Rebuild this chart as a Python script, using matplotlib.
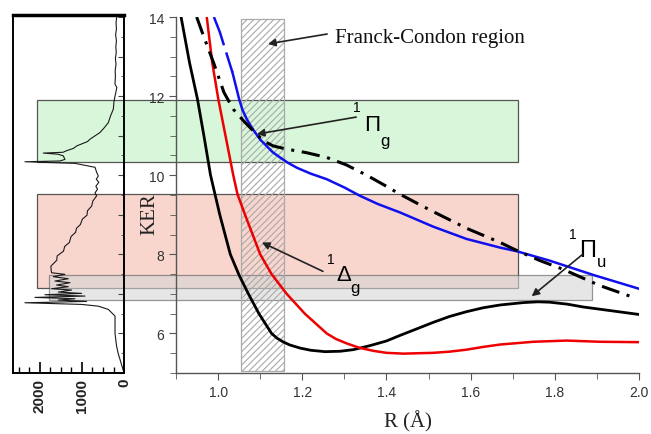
import matplotlib.pyplot as plt
from matplotlib.patches import Rectangle
from matplotlib.ticker import MultipleLocator
from matplotlib import transforms

plt.rcParams['font.family'] = 'Liberation Sans'
plt.rcParams['hatch.linewidth'] = 0.8

# potential curves: R (Angstrom) vs KER (eV)
black_R = [0.912, 0.932, 0.951, 0.967, 0.982, 1.004, 1.029, 1.050, 1.072, 1.097,
           1.127, 1.140, 1.154, 1.170, 1.195, 1.220, 1.254, 1.290, 1.321, 1.360,
           1.400, 1.432, 1.480, 1.511, 1.550, 1.590, 1.630, 1.670, 1.725, 1.760,
           1.788, 1.830, 1.867, 1.930, 2.000]
black_KER = [14.0, 12.85, 11.92, 10.95, 10.0, 9.0, 8.0, 7.47, 7.0, 6.5,
             6.0, 5.88, 5.79, 5.71, 5.63, 5.575, 5.54, 5.55, 5.59, 5.69,
             5.81, 5.95, 6.15, 6.28, 6.43, 6.55, 6.65, 6.72, 6.78, 6.80,
             6.79, 6.74, 6.67, 6.58, 6.48]

red_R = [0.973, 0.986, 1.0005, 1.036, 1.046, 1.064, 1.100, 1.127, 1.163, 1.206,
         1.258, 1.280, 1.305, 1.335, 1.369, 1.400, 1.440, 1.511, 1.550, 1.590,
         1.630, 1.670, 1.749, 1.828, 1.907, 2.000]
red_KER = [14.0, 12.85, 11.92, 10.0, 9.52, 9.0, 8.0, 7.5, 7.0, 6.5,
           6.0, 5.86, 5.75, 5.64, 5.56, 5.51, 5.49, 5.51, 5.54, 5.59,
           5.66, 5.72, 5.79, 5.82, 5.79, 5.78]

blue_top_R = [0.990, 1.004, 1.034]
blue_top_KER = [14.0, 13.62, 12.6]
blue_R = [1.034, 1.043, 1.050, 1.058, 1.068, 1.078, 1.088, 1.100, 1.115, 1.130,
          1.147, 1.165, 1.187, 1.220, 1.258, 1.300, 1.337, 1.380, 1.432, 1.511,
          1.590, 1.670, 1.709, 1.788, 1.891, 2.000]
blue_KER = [12.6, 12.22, 11.92, 11.65, 11.42, 11.24, 11.08, 10.90, 10.74, 10.58,
            10.45, 10.32, 10.19, 10.04, 9.90, 9.69, 9.48, 9.27, 9.06, 8.70,
            8.39, 8.17, 8.08, 7.84, 7.48, 7.13]

dd_R = [0.949, 0.965, 0.989, 1.014, 1.036, 1.060, 1.080, 1.092, 1.107, 1.131,
        1.163, 1.210, 1.258, 1.305, 1.353, 1.400, 1.432, 1.480, 1.511, 1.590,
        1.670, 1.709, 1.765, 1.820, 1.907, 1.990]
dd_KER = [14.0, 13.53, 12.85, 12.09, 11.67, 11.38, 11.16, 11.04, 10.87, 10.74,
          10.66, 10.57, 10.45, 10.26, 10.00, 9.72, 9.52, 9.25, 9.08, 8.66,
          8.30, 8.10, 7.84, 7.62, 7.21, 6.90]

# measured KER spectrum (counts vs KER)
spec_KER = [14.0, 13.85, 13.7, 13.55, 13.4, 13.25, 13.1, 12.95, 12.8, 12.65,
            12.5, 12.3, 12.22, 12.0, 11.85, 11.67, 11.5, 11.33, 11.2, 11.08,
            10.91, 10.85, 10.74, 10.68, 10.62, 10.58, 10.56, 10.53, 10.49, 10.40,
            10.36, 10.34, 10.30, 10.20, 10.07, 9.98, 9.90, 9.82, 9.72, 9.65,
            9.55, 9.48, 9.35, 9.22, 9.10, 8.99, 8.89, 8.75, 8.66, 8.56,
            8.45, 8.30, 8.20, 8.08, 7.96, 7.85, 7.70, 7.58,
            7.535, 7.494, 7.435, 7.384, 7.325, 7.283, 7.224, 7.182, 7.131, 7.097,
            7.046, 7.013, 6.979, 6.945, 6.911, 6.878, 6.844, 6.81, 6.776, 6.734,
            6.69, 6.608, 6.44, 6.0, 5.7, 5.5, 5.2, 5.0]
spec_counts = [174, 190, 180, 200, 180, 195, 185, 205, 190, 210,
               205, 215, 170, 214, 240, 254, 320, 373, 470, 571,
               810, 870, 1127, 1200, 1365, 1450, 1920, 1564, 1444, 1405,
               1524, 2357, 1167, 690, 650, 611, 660, 600, 670, 630,
               690, 650, 740, 770, 870, 880, 990, 1040, 1130, 1150,
               1260, 1300, 1410, 1440, 1590, 1600, 1740, 1730,
               1722, 1405, 1683, 1325, 1643, 1286, 1603, 1325, 1722, 1246,
               1563, 1008, 1881, 929, 2119, 1167, 1563, 889, 2357, 1008,
               611, 373, 214, 214, 180, 140, 55, 0]

# energy windows (KER lo, hi) and their colours
band_lo = [10.33, 7.16, 6.84]
band_hi = [11.9, 9.52, 7.47]
band_left_counts = [2070, 2070, 1790]
band_right_R = [1.712, 1.712, 1.888]
band_colors = ['#d8f6da', '#f8d6ce', '#d6d6d6']
band_alpha = [1.0, 1.0, 0.6]

fc_R = (1.055, 1.157)
fc_KER = (5.04, 13.95)

fig = plt.figure(figsize=(6.51, 4.35), dpi=100)
ax = fig.add_axes([0.2704, 0.1402, 0.7112, 0.8184])
axl = fig.add_axes([0.020, 0.1402, 0.1705, 0.823])
for a in (ax, axl):
    a.set_facecolor('none')

# main panel
ax.set_xlim(0.9, 2.0)
ax.set_ylim(5.0, 14.0)
for s in ('top', 'right'):
    ax.spines[s].set_visible(False)
for s in ('left', 'bottom'):
    ax.spines[s].set_color('#555555')
    ax.spines[s].set_linewidth(1.0)
ax.xaxis.set_major_locator(MultipleLocator(0.2))
ax.xaxis.set_minor_locator(MultipleLocator(0.1))
ax.yaxis.set_major_locator(MultipleLocator(2))
ax.yaxis.set_minor_locator(MultipleLocator(0.5))
ax.set_xticks([1.0, 1.2, 1.4, 1.6, 1.8, 2.0])
ax.set_yticks([6, 8, 10, 12, 14])
ax.tick_params(which='both', direction='out', color='#555555', labelsize=10,
               labelcolor='#333333')
ax.tick_params(which='major', length=5)
ax.tick_params(which='minor', length=4)
ax.set_xlabel('R (Å)', family='Liberation Serif', fontsize=15, color='#222222')
ax.set_ylabel('KER', family='Liberation Serif', fontsize=15, color='#222222')
ax.xaxis.set_label_coords(0.50, -0.105)
ax.yaxis.set_label_coords(-0.036, 0.45)

# spectrum panel
axl.set_xlim(2640, 0)
axl.set_ylim(5.0, 14.05)
for s in axl.spines.values():
    s.set_linewidth(1.4)
    s.set_color('black')
axl.spines['top'].set_linewidth(2.5)
axl.set_xticks([2000, 1000, 0])
axl.xaxis.set_minor_locator(MultipleLocator(250))
axl.set_xticklabels(['2000', '1000', '0'], rotation=90, fontsize=11,
                    fontweight='bold', color='#222222')
axl.tick_params(axis='x', which='major', direction='in', length=8, width=1.2)
axl.tick_params(axis='x', which='minor', direction='in', length=4, width=1)
axl.yaxis.tick_right()
axl.yaxis.set_major_locator(MultipleLocator(1))
axl.yaxis.set_minor_locator(MultipleLocator(0.5))
axl.tick_params(axis='y', which='both', direction='in', labelright=False,
                color='#444444')
axl.tick_params(axis='y', which='major', length=4)
axl.tick_params(axis='y', which='minor', length=2.5)
axl.plot(spec_counts, spec_KER, color='#1a1a1a', lw=0.8)

# energy windows spanning both panels
inv = fig.transFigure.inverted()
for lo, hi, cl, rr, col, al in zip(band_lo, band_hi, band_left_counts, band_right_R,
                                   band_colors, band_alpha):
    x0 = inv.transform(axl.transData.transform((cl, lo)))[0]
    x1 = inv.transform(ax.transData.transform((rr, lo)))[0]
    tr = transforms.blended_transform_factory(fig.transFigure, ax.transData)
    fig.add_artist(Rectangle((x0, lo), x1 - x0, hi - lo, transform=tr,
                             facecolor=col, alpha=al, edgecolor='#555555',
                             lw=0.9, zorder=-1))

# Franck-Condon region
ax.add_patch(Rectangle((fc_R[0], fc_KER[0]), fc_R[1] - fc_R[0], fc_KER[1] - fc_KER[0],
                       facecolor='none', edgecolor='#aaaaaa', hatch='/////',
                       lw=0.9, zorder=1.5))

ax.plot(black_R, black_KER, color='black', lw=2.0, zorder=3)
ax.plot(red_R, red_KER, color='#ee0000', lw=1.8, zorder=3)
ax.plot(blue_top_R, blue_top_KER, color='#1010ee', lw=1.8, zorder=3,
        linestyle=(0, (12, 3)))
ax.plot(blue_R, blue_KER, color='#1010ee', lw=1.8, zorder=3)
ax.plot(dd_R, dd_KER, color='black', lw=2.2, zorder=4,
        linestyle=(0, (6, 2.5, 1, 2.5)))

arrow = dict(arrowstyle='-|>', color='#222222', lw=1.2, mutation_scale=11,
             shrinkA=0, shrinkB=0)
ax.annotate('', xy=(1.1185, 13.32), xytext=(1.259, 13.57), arrowprops=arrow, zorder=5)
ax.text(1.278, 13.49, 'Franck-Condon region', family='Liberation Serif',
        fontsize=15, ha='left', va='center', color='#111111')

ax.annotate('', xy=(1.092, 11.04), xytext=(1.328, 11.47), arrowprops=arrow, zorder=5)
ax.text(1.330, 11.72, '1', fontsize=10, ha='center', va='center')
ax.text(1.366, 11.28, 'Π', fontsize=16, ha='center', va='center')
ax.text(1.396, 10.88, 'g', fontsize=12, ha='center', va='center')

ax.annotate('', xy=(1.104, 8.30), xytext=(1.249, 7.57), arrowprops=arrow, zorder=5)
ax.text(1.268, 7.87, '1', fontsize=10, ha='center', va='center')
ax.text(1.298, 7.49, 'Δ', fontsize=16, ha='center', va='center')
ax.text(1.325, 7.16, 'g', fontsize=12, ha='center', va='center')

ax.annotate('', xy=(1.745, 6.94), xytext=(1.866, 8.0), arrowprops=arrow, zorder=5)
ax.text(1.842, 8.51, '1', fontsize=10, ha='center', va='center')
ax.text(1.877, 8.10, 'Π', fontsize=17, ha='center', va='center')
ax.text(1.911, 7.83, 'u', fontsize=12, ha='center', va='center')

fig.savefig('out.png', dpi=100)
